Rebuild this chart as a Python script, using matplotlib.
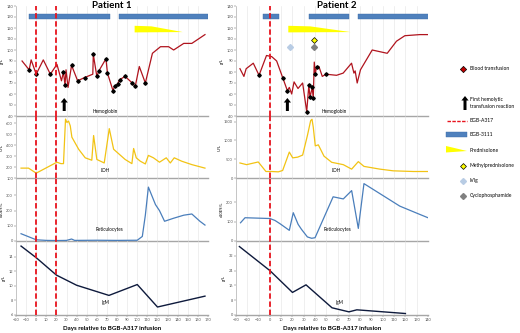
import numpy as np
import matplotlib
matplotlib.use("Agg")
import matplotlib.pyplot as plt
from matplotlib.patches import Rectangle, Polygon

plt.rcParams['font.family'] = ['Lato', 'DejaVu Sans']

# ---------------- data ----------------
# Patient 1
p1_hb_day = [-14, -7, -5, 0, 7, 14, 20.5, 25, 27, 28.5, 29.5, 31.5, 35, 41, 48, 56, 56.5, 60, 62,
             69, 70.5, 76, 77.5, 80.5, 82.5, 88, 95, 98, 102, 108, 115, 123, 131, 136, 146, 154, 167]
p1_hb = [90, 82, 91, 78, 91, 78, 87, 72, 80, 68, 82, 66, 86, 72, 75, 78, 96, 76, 81,
         92, 79, 63, 67, 69, 73, 76, 70, 67, 85, 70, 97, 103, 103, 100, 106, 106, 114]
p1_tx_day = [-7, 0, 14, 27, 28.5, 35, 41, 48, 56.5, 60, 62, 69, 70.5, 76, 77.5, 80.5, 82.5, 88, 95, 98, 108]

p1_ldh_day = [-15, -7.6, 0, 20.5, 24.4, 27, 29, 30.4, 32, 33.7, 35.3, 42, 48.5, 55, 56.8, 60, 67.3,
              72.3, 76.6, 88, 94.7, 96.4, 99, 103, 108, 111, 116, 122, 128.7, 132.7, 136.6, 144, 154, 167]
p1_ldh = [190, 190, 144, 244, 231, 231, 637, 606, 619, 575, 472, 362, 284, 262, 487, 269, 237,
          550, 362, 269, 231, 369, 284, 253, 228, 306, 284, 244, 284, 237, 284, 253, 222, 190]

p1_ret_day = [-15, 0, 10, 20, 30, 35, 38, 60, 80, 100, 105, 108, 111, 118, 122, 127, 136, 146, 154, 162, 167]
p1_ret = [48, 8, 4, 3, 4, 13, 4, 5, 4, 5, 30, 170, 355, 240, 200, 130, 150, 170, 178, 130, 105]

p1_igm_day = [-15, 0, 20, 40, 72, 100, 120, 167]
p1_igm = [15.5, 13.9, 11.5, 10.1, 8.7, 10.2, 7.1, 8.6]

p1_bgb3111 = [(-7, 72.6), (81.5, 170)]
p1_pred = (97.4, 145)
p1_a317 = [0, 20]
p1_first_rx = 27.7

# Patient 2
p2_hb_day = [-26.5, -23, -21, -14.7, -9.6, -3, 1.6, 6, 11.3, 15.5, 17.2, 19.3, 21.4, 24.9, 29,
             32.6, 34.5, 35.5, 37.5, 38.4, 39.3, 40.2, 41.3, 43.4, 46.4, 49.6, 59, 64.9, 72.3,
             74.4, 75.5, 77.3, 80.2, 90.6, 103.9, 112.1, 119.5, 132.8, 140]
p2_hb = [83, 76, 83, 88, 77, 95, 94, 90, 75, 63, 66, 60, 71, 65, 70,
         44, 68, 57, 66, 56, 89, 78, 85, 85, 76, 78, 77, 79, 88,
         79, 81, 70, 82, 100, 97, 108, 113, 114, 114]
p2_tx_day = [-9.6, 11.3, 15.5, 32.6, 34.5, 35.5, 37.5, 38.4, 40.2, 41.3, 49.6]

p2_ldh_day = [-26.5, -20.6, -10.3, -3.5, 1.6, 7.5, 11.3, 17.2, 20.2, 24.6, 29, 33.2, 36.1, 37.3,
              38.4, 40.2, 42.9, 47.9, 54.7, 65, 72.4, 78.3, 83.3, 97.4, 109.2, 127, 140]
p2_ldh = [400, 355, 427, 173, 173, 164, 200, 690, 536, 555, 610, 1127, 1527, 1563,
          1354, 855, 882, 582, 418, 355, 236, 436, 309, 236, 191, 173, 173]

p2_ret_day = [-26, -22, 0, 4.5, 9, 17.2, 20.7, 25, 28, 33.2, 37, 40, 56, 65, 72.4, 78.3, 83.3, 115, 132.8, 140]
p2_ret = [94, 120, 116, 106, 89, 55, 146, 86, 60, 21, 14, 17, 228, 217, 260, 65, 296, 180, 137, 120]

p2_igm_day = [-27, 0, 20, 32, 55, 70, 77, 120]
p2_igm = [37, 24, 12.2, 16.3, 3.9, 1.7, 2.8, 0.8]

p2_bgb3111 = [(-6.2, 8), (34.9, 70.3), (78, 145)]
p2_pred = (16.3, 71.5)
p2_a317 = [0]
p2_first_rx = 15.5
p2_methylpred = (39.3, 109)
p2_ivig = (17.6, 103)
p2_cyclo = (39.3, 102.5)

# ---------------- style ----------------
C_HB, C_LDH, C_RET, C_IGM = '#B0141E', '#F2C314', '#4A7EBB', '#0E1A3C'
C_BAR, C_PRED, C_RED = '#4F81BD', '#FFFF00', '#E8141E'
GRID, SPINE = '#E3E3E3', '#A6A6A6'

W, H = 520, 333
fig = plt.figure(figsize=(W / 100, H / 100), dpi=100, facecolor='white')

rows = [(6, 116), (116, 178), (178, 241), (241, 315)]   # pixel top/bottom of each strip

# overlay axis in pixel coordinates, for legend + arrows
lax = fig.add_axes([0, 0, 1, 1], zorder=10); lax.axis('off')
lax.set_xlim(0, W); lax.set_ylim(H, 0)


def up_arrow(x, ytop, ybot):
    # block arrow, pixel coords
    pts = [(x - 1.5, ybot), (x - 1.5, ytop + 4.5), (x - 3.6, ytop + 4.5), (x, ytop),
           (x + 3.6, ytop + 4.5), (x + 1.5, ytop + 4.5), (x + 1.5, ybot)]
    lax.add_patch(Polygon(pts, fc='black', ec='none'))


def make_axes(x0, x1):
    axs = []
    for top, bot in rows:
        ax = fig.add_axes([x0 / W, 1 - bot / H, (x1 - x0) / W, (bot - top) / H])
        ax.patch.set_alpha(0)
        for s in ('top', 'right'):
            ax.spines[s].set_visible(False)
        ax.spines['left'].set_color(SPINE); ax.spines['left'].set_linewidth(0.4)
        ax.spines['bottom'].set_color(SPINE); ax.spines['bottom'].set_linewidth(1.0)
        ax.tick_params(labelsize=2.8, length=1.2, width=0.3, colors='#555555', pad=1)
        axs.append(ax)
    return axs


def draw_patient(axs, xr, hb_d, hb, tx_d, ldh_d, ldh, ret_d, ret, igm_d, igm,
                 bars, pred, a317, first_rx, ldh_lim, ldh_ticks, ret_lim, ret_ticks,
                 igm_lim, igm_ticks, lbl_x):
    ax_hb, ax_ldh, ax_ret, ax_igm = axs
    for ax in axs:
        ax.set_xlim(xr)
        ax.set_xticks(np.arange(xr[0], xr[1] + 1, 10))
        ax.grid(axis='x', color=GRID, lw=0.4)
        ax.set_axisbelow(True)
        for d in a317:
            ax.axvline(d, color=C_RED, lw=1.3, ls=(0, (3, 1.5)), zorder=5)
    for ax in axs[:-1]:
        ax.tick_params(axis='x', labelbottom=False, length=0)

    # hemoglobin
    ax_hb.plot(hb_d, hb, color=C_HB, lw=0.9, zorder=3)
    ax_hb.plot(tx_d, np.interp(tx_d, hb_d, hb), ls='none', marker='D', ms=1.8,
               color='black', zorder=4)
    ax_hb.set_ylim(40, 140); ax_hb.set_yticks(range(40, 141, 10))
    for a, b in bars:
        ax_hb.add_patch(Rectangle((a, 128.5), b - a, 4.5, fc=C_BAR, ec='#3C6AA5', lw=0.3,
                                  clip_on=True, zorder=2))
    ax_hb.add_patch(Polygon([(pred[0], 122), (pred[0] + 0.35 * (pred[1] - pred[0]), 121.5),
                             (pred[1], 116.3), (pred[0], 116)], fc=C_PRED, ec='none', zorder=2))
    ax_hb.text(lbl_x[0], 44, 'Hemoglobin', fontsize=3.3, ha='center', va='center')
    ax_hb.set_ylabel('g/L', fontsize=3, labelpad=1.5)
    xpix = ax_hb.transData.transform((first_rx, 0))[0]
    up_arrow(xpix, 98, 111)

    # LDH
    ax_ldh.plot(ldh_d, ldh, color=C_LDH, lw=0.9, zorder=3)
    ax_ldh.set_ylim(ldh_lim); ax_ldh.set_yticks(ldh_ticks)
    ax_ldh.text(lbl_x[1], ldh_lim[0] + 0.12 * (ldh_lim[1] - ldh_lim[0]), 'LDH', fontsize=3.3,
                ha='center', va='center')
    ax_ldh.set_ylabel('U/L', fontsize=3, labelpad=1.5)

    # reticulocytes
    ax_ret.plot(ret_d, ret, color=C_RET, lw=0.9, zorder=3)
    ax_ret.set_ylim(ret_lim); ax_ret.set_yticks(ret_ticks)
    ax_ret.text(lbl_x[2], 0.18 * ret_lim[1], 'Reticulocytes', fontsize=3.3, ha='center', va='center')
    ax_ret.set_ylabel('x10E9/L', fontsize=3, labelpad=1.5)

    # IgM
    ax_igm.plot(igm_d, igm, color=C_IGM, lw=1.0, zorder=3)
    ax_igm.set_ylim(igm_lim); ax_igm.set_yticks(igm_ticks)
    ax_igm.text(lbl_x[3], igm_lim[0] + 0.17 * (igm_lim[1] - igm_lim[0]), 'IgM', fontsize=3.3,
                ha='center', va='center')
    ax_igm.set_ylabel('g/L', fontsize=3, labelpad=1.5)
    ax_igm.set_xlabel('Days relative to BGB-A317 infusion', fontsize=4.4, fontweight='bold',
                      labelpad=2.5)


axs1 = make_axes(16, 208)
draw_patient(axs1, (-20, 170), p1_hb_day, p1_hb, p1_tx_day, p1_ldh_day, p1_ldh, p1_ret_day, p1_ret,
             p1_igm_day, p1_igm, p1_bgb3111, p1_pred, p1_a317, p1_first_rx,
             (100, 665), range(100, 601, 100), (0, 415), [0, 100, 200, 300],
             (6, 16.2), [6, 8, 10, 12, 14], (68, 68.6, 73, 69))
fig.text(112 / W, 1 - 6 / H, 'Patient 1', fontsize=7, fontweight='bold', ha='center', va='center')

axs2 = make_axes(236, 428)
draw_patient(axs2, (-30, 140), p2_hb_day, p2_hb, p2_tx_day, p2_ldh_day, p2_ldh, p2_ret_day, p2_ret,
             p2_igm_day, p2_igm, p2_bgb3111, p2_pred, p2_a317, p2_first_rx,
             (0, 1650), range(0, 1501, 500), (0, 325), [0, 100, 200],
             (0, 40), [0, 8, 16, 24, 32], (57, 58.5, 60, 62))
fig.text(337 / W, 1 - 6 / H, 'Patient 2', fontsize=7, fontweight='bold', ha='center', va='center')
ax = axs2[0]
ax.plot(*p2_methylpred, marker='D', ms=3, mfc=C_PRED, mec='black', mew=0.5, zorder=6)
ax.plot(*p2_ivig, marker='D', ms=3, mfc='#B8CCE4', mec='#B8CCE4', zorder=6)
ax.plot(*p2_cyclo, marker='D', ms=3, mfc='#808080', mec='#808080', zorder=6)

# ---------------- legend (pixel coordinates) ----------------
tx = 470
fs = 3.6
lax.plot(463, 69, marker='D', ms=3.2, mfc='#C00000', mec='black', mew=0.5)
lax.text(tx, 69, 'Blood transfusion', fontsize=fs, va='center')
up_arrow(465, 96, 110)
lax.text(tx, 103, 'First hemolytic\ntransfusion reaction', fontsize=fs, va='center', linespacing=1.3)
lax.plot([447, 467], [121, 121], color=C_RED, lw=1.0, ls=(0, (2.5, 1)))
lax.text(tx, 121, 'BGB-A317', fontsize=fs, va='center')
lax.add_patch(Rectangle((446, 132), 21, 5, fc=C_BAR, ec='#3C6AA5', lw=0.3))
lax.text(tx, 135, 'BGB-3111', fontsize=fs, va='center')
lax.add_patch(Polygon([(446, 146), (467, 151), (446, 152.5)], fc=C_PRED, ec='none'))
lax.text(tx, 150, 'Prednisolone', fontsize=fs, va='center')
lax.plot(463, 165.5, marker='D', ms=3, mfc=C_PRED, mec='black', mew=0.5)
lax.text(tx, 165.5, 'Methylprednisolone', fontsize=fs, va='center')
lax.plot(463, 180.5, marker='D', ms=3, mfc='#B8CCE4', mec='#B8CCE4')
lax.text(tx, 180.5, 'IVIg', fontsize=fs, va='center')
lax.plot(463, 195.5, marker='D', ms=3, mfc='#808080', mec='#808080')
lax.text(tx, 195.5, 'Cyclophosphamide', fontsize=fs, va='center')

fig.savefig('out.png', dpi=100, facecolor='white')
